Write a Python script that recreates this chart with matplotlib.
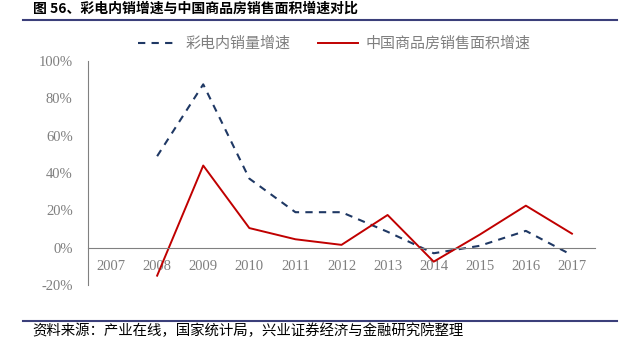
import matplotlib
matplotlib.use('Agg')
import matplotlib.pyplot as plt
from matplotlib.lines import Line2D

years = ['2007', '2008', '2009', '2010', '2011', '2012', '2013', '2014', '2015', '2016', '2017']
tv_sales = [None, 49, 87.5, 37, 19, 19, 8.5, -3, 1, 9, -4]
house_area = [None, -15, 44, 10.5, 4.5, 1.5, 17.5, -7.5, 7, 22.5, 7.5]

title = '图 56、彩电内销增速与中国商品房销售面积增速对比'
source = '资料来源：产业在线，国家统计局，兴业证券经济与金融研究院整理'
labels = ['彩电内销量增速', '中国商品房销售面积增速']

cjk = ['Noto Sans CJK SC', 'DejaVu Sans']
navy = '#1F3864'
red = '#C00000'
grey = '#7F7F7F'
rule = '#3B3F7A'

fig = plt.figure(figsize=(6.34, 3.37), dpi=100)
ax = fig.add_axes([88 / 634, 1 - 285 / 337, 507 / 634, 224 / 337])

# zero line doubles as the category axis
for s in ['top', 'right']:
    ax.spines[s].set_visible(False)
ax.spines['left'].set_color('#808080')
ax.spines['bottom'].set_position(('data', 0))
ax.spines['bottom'].set_color('#808080')

xs = list(range(len(years)))
pts1 = [(x, v) for x, v in zip(xs, tv_sales) if v is not None]
pts2 = [(x, v) for x, v in zip(xs, house_area) if v is not None]
ax.plot([p[0] for p in pts1], [p[1] for p in pts1], color=navy, lw=1.5,
        linestyle=(0, (3.5, 3)))
ax.plot([p[0] for p in pts2], [p[1] for p in pts2], color=red, lw=1.4)

ax.set_xlim(-0.5, len(years) - 0.5)
ax.set_ylim(-20, 100)
ax.set_yticks(range(-20, 101, 20))
ax.set_yticklabels([f'{v}%' for v in range(-20, 101, 20)],
                   family='Liberation Serif', fontsize=10.5, color=grey)
ax.set_xticks(xs)
ax.set_xticklabels(years, family='Liberation Serif', fontsize=10.5, color=grey)
ax.tick_params(axis='both', length=0)
ax.tick_params(axis='y', pad=11)
ax.tick_params(axis='x', pad=9)

# legend above the plot
handles = [Line2D([], [], color=navy, lw=1.5, linestyle=(0, (3.5, 3))),
           Line2D([], [], color=red, lw=1.4)]
leg = fig.legend(handles, labels, loc='center', bbox_to_anchor=(334 / 634, 1 - 44 / 337),
                 ncol=2, frameon=False, handlelength=2.7, columnspacing=1.8,
                 handletextpad=0.5, prop={'family': cjk, 'size': 10.8})
for t in leg.get_texts():
    t.set_color(grey)

fig.text(33 / 634, 1 - 9 / 337, title, family=cjk, fontsize=10,
         fontweight='bold', va='center', ha='left')
fig.text(32 / 634, 1 - 331 / 337, source, family=cjk, fontsize=10.4,
         va='center', ha='left')
fig.add_artist(Line2D([23 / 634, 617 / 634], [1 - 19.5 / 337] * 2, color=rule, lw=1.5))
fig.add_artist(Line2D([23 / 634, 617 / 634], [1 - 321 / 337] * 2, color=rule, lw=1.5))

plt.savefig('out.png', dpi=100)
